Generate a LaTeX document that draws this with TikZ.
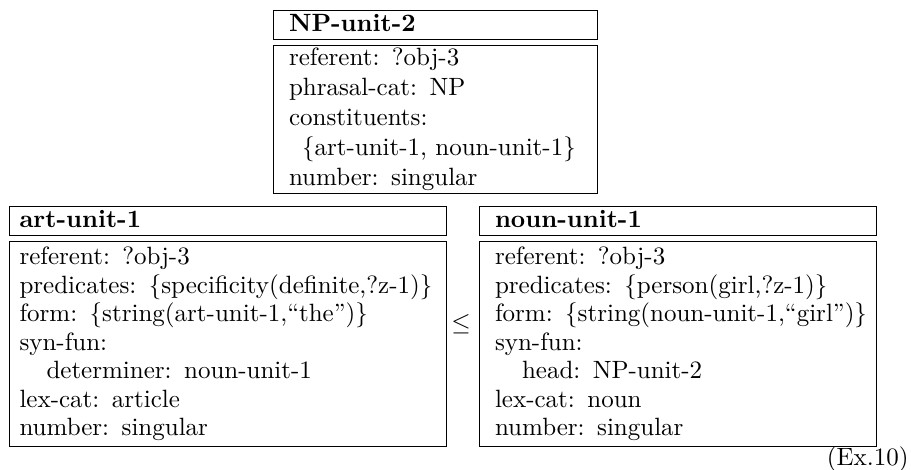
\documentclass[tikz,border=0pt]{standalone}
\def\indtop{\hspace*{5.2pt}}
\def\indlow{\hspace*{10.8pt}}

\begin{document}
\begin{tikzpicture}[x=0.4pt,y=-0.4pt,
  unithead/.style={draw,anchor=north west,inner xsep=4pt,inner ysep=0pt,align=left,
    font=\bfseries,minimum height=11.6pt,text height=7pt,text depth=2pt},
  unitbody/.style={draw,anchor=north west,inner xsep=4pt,inner ysep=1pt,align=left,
    font=\fontsize{10}{11.4}\selectfont},
  widepad/.style={inner xsep=6.2pt}]
\useasboundingbox (0,0) rectangle (911,470);
% NP unit
\node[unithead,widepad,text width=117.2pt] (np-head) at (273,10) {NP-unit-2};
\node[unitbody,widepad,text width=117.2pt,minimum height=58.8pt,
  font=\fontsize{10}{12}\selectfont] (np-body) at (273,45) {referent: ?obj-3\\
  phrasal-cat: NP\\
  constituents:\\
  \indtop\{art-unit-1, noun-unit-1\}\\
  number: singular};
% article unit
\node[unithead,text width=166.8pt] (art-head) at (9,206) {art-unit-1};
\node[unitbody,text width=166.8pt,minimum height=82pt] (art-body) at (9,241) {referent: ?obj-3\\
  \mbox{predicates: \{specificity(definite,?z-1)\}}\\
  form: \{string(art-unit-1,``the'')\}\\
  syn-fun:\\
  \indlow determiner: noun-unit-1\\
  lex-cat: article\\
  number: singular};
% noun unit
\node[unithead,widepad,text width=146.4pt] (noun-head) at (479,206) {noun-unit-1};
\node[unitbody,widepad,text width=146.4pt,minimum height=82pt] (noun-body) at (479,241) {referent: ?obj-3\\
  predicates: \{person(girl,?z-1)\}\\
  \mbox{form: \{string(noun-unit-1,``girl'')\}}\\
  syn-fun:\\
  \indlow head: NP-unit-2\\
  lex-cat: noun\\
  number: singular};
\node (leq) at (461,324) {$\leq$};
\node[anchor=base east,inner sep=0pt] (exnum) at (909,466) {(Ex.10)};
\end{tikzpicture}
\end{document}
